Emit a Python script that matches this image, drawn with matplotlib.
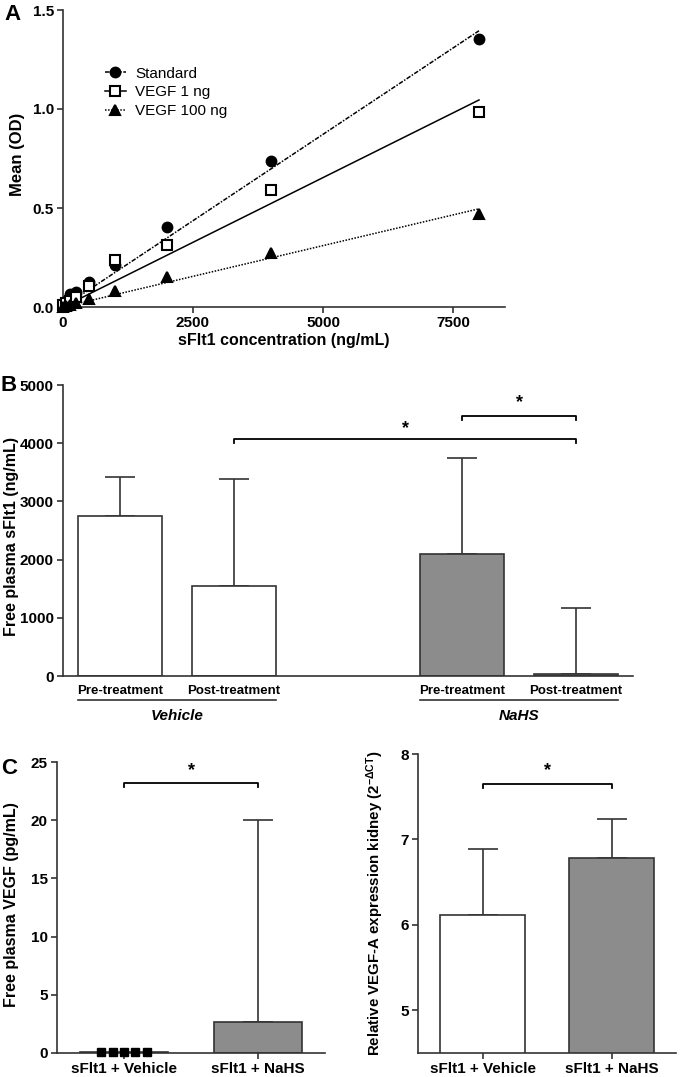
import numpy as np
import matplotlib
matplotlib.use("Agg")
import matplotlib.pyplot as plt
import matplotlib.transforms as mtransforms

plt.rcParams['font.family'] = ['Liberation Sans', 'DejaVu Sans']
plt.rcParams['font.weight'] = 'bold'
plt.rcParams['mathtext.fontset'] = 'custom'
plt.rcParams['mathtext.rm'] = 'Liberation Sans:bold'
plt.rcParams['mathtext.it'] = 'Liberation Sans:bold:italic'
plt.rcParams['mathtext.bf'] = 'Liberation Sans:bold'
plt.rcParams['mathtext.default'] = 'rm'

# ---------------- Data ----------------
# Panel A: standard curves
conc = [0, 62.5, 125, 250, 500, 1000, 2000, 4000, 8000]
od_standard = [0.02, 0.03, 0.065, 0.075, 0.125, 0.21, 0.405, 0.735, 1.355]
od_vegf1 = [0.01, 0.02, 0.03, 0.05, 0.105, 0.235, 0.315, 0.59, 0.985]
od_vegf100 = [0.0, 0.005, 0.01, 0.02, 0.04, 0.08, 0.152, 0.274, 0.47]
fit_slope = [1.744e-4, 1.307e-4, 6.2e-5]
fit_intercept = [0.0, 0.0, 0.0]
series_names = ["Standard", "VEGF 1 ng", "VEGF 100 ng"]

# Panel B: free plasma sFlt1
b_labels = ["Pre-treatment", "Post-treatment", "Pre-treatment", "Post-treatment"]
b_pos = [0, 1, 3, 4]
b_means = [2750, 1546, 2096, 35]
b_err = [670, 1840, 1650, 1135]
b_colors = ["white", "white", "#8c8c8c", "#8c8c8c"]
b_groups = ["Vehicle", "NaHS"]

# Panel C left: free plasma VEGF
c1_labels = ["sFlt1 + Vehicle", "sFlt1 + NaHS"]
c1_means = [0.05, 2.65]
c1_err = [0.0, 17.35]
c1_points_x = [-0.17, -0.085, 0.0, 0.085, 0.17]
c1_points_y = [0.05, 0.05, 0.05, 0.05, 0.05]

# Panel C right: VEGF-A expression kidney
c2_labels = ["sFlt1 + Vehicle", "sFlt1 + NaHS"]
c2_means = [6.11, 6.78]
c2_err = [0.78, 0.46]

W, H = 680, 1077
fig = plt.figure(figsize=(W / 100, H / 100), dpi=100)

def add_ax(x0, x1, ytop, ybot):
    return fig.add_axes([x0 / W, 1 - ybot / H, (x1 - x0) / W, (ybot - ytop) / H])

EDGE = "#333333"
TICKFS = 11
LABFS = 11.5

def style(ax):
    for s in ['top', 'right']:
        ax.spines[s].set_visible(False)
    for s in ['left', 'bottom']:
        ax.spines[s].set_linewidth(1.2)
        ax.spines[s].set_color(EDGE)
    ax.tick_params(width=1.2, length=4, color=EDGE, labelsize=TICKFS, pad=2.5)
    for t in ax.get_xticklabels() + ax.get_yticklabels():
        t.set_fontweight('bold')

def bracket(ax, x1, x2, y, tick, star_y):
    ax.plot([x1, x1, x2, x2], [y - tick, y, y, y - tick], color='black', lw=1.3, clip_on=False)
    ax.text((x1 + x2) / 2, star_y, "*", ha='center', va='center', fontsize=13, fontweight='bold')

# ---------------- Panel A ----------------
axA = add_ax(63, 505, 10, 307)
markers = ['o', 's', '^']
fills = ['black', 'white', 'black']
lstyles = [(0, (3, 1, 1, 1)), '-', (0, (1, 1))]
ys = [od_standard, od_vegf1, od_vegf100]
xs_fit = np.array([min(conc), max(conc)])
for i in range(3):
    axA.plot(conc, ys[i], linestyle='none', marker=markers[i], ms=7 if i != 1 else 6.5,
             mfc=fills[i], mec='black', mew=1.5, clip_on=False, zorder=3)
    axA.plot(xs_fit, fit_intercept[i] + fit_slope[i] * xs_fit, color='black', lw=1.1,
             linestyle=lstyles[i], zorder=2)
handles = []
for i in range(3):
    h, = axA.plot([], [], color='black', lw=1.1, linestyle=lstyles[i], marker=markers[i],
                  ms=7 if i != 1 else 6.5, mfc=fills[i], mec='black', mew=1.5)
    handles.append(h)
leg = axA.legend(handles, series_names, loc='upper left', bbox_to_anchor=(0.07, 0.845),
                 frameon=False, prop={'size': 11, 'weight': 'normal'}, handlelength=1.4,
                 labelspacing=0.3, handletextpad=0.6, borderpad=0.2)
axA.set_xlim(0, 8500)
axA.set_ylim(0, 1.5)
axA.set_xticks([0, 2500, 5000, 7500])
axA.set_yticks([0.0, 0.5, 1.0, 1.5])
axA.set_yticklabels(["0.0", "0.5", "1.0", "1.5"])
style(axA)
fig.text(284 / W, 1 - 341 / H, "sFlt1 concentration (ng/mL)", ha='center', va='center',
         fontsize=LABFS, fontweight='bold')
fig.text(18 / W, 1 - 154 / H, "Mean (OD)", ha='center', va='center', rotation=90,
         fontsize=12, fontweight='bold')
fig.text(4 / W, 1 - 14 / H, "A", ha='left', va='center', fontsize=16, fontweight='bold')

# ---------------- Panel B ----------------
axB = add_ax(63, 633, 385, 676)
bw = 0.745
axB.bar(b_pos, b_means, width=bw, color=b_colors, edgecolor=EDGE, linewidth=1.2, zorder=2)
axB.errorbar(b_pos, b_means, yerr=[[0] * 4, b_err], fmt='none', ecolor=EDGE, elinewidth=1.2,
             capsize=10.5, capthick=1.2, zorder=1)
axB.set_xlim(-0.5, 4.5)
axB.set_ylim(0, 5000)
axB.set_yticks([0, 1000, 2000, 3000, 4000, 5000])
axB.set_xticks([])
style(axB)
trB = mtransforms.blended_transform_factory(axB.transData, axB.transAxes)
for p, lab in zip(b_pos, b_labels):
    axB.text(p, -0.052, lab, transform=trB, ha='center', va='center', fontsize=9.5,
             fontweight='bold')
groups_span = [(b_pos[0] - bw / 2, b_pos[1] + bw / 2), (b_pos[2] - bw / 2, b_pos[3] + bw / 2)]
for (g0, g1), g in zip(groups_span, b_groups):
    axB.plot([g0, g1], [-0.082, -0.082], transform=trB, color=EDGE, lw=1.2, clip_on=False)
    axB.text((g0 + g1) / 2, -0.137, g, transform=trB, ha='center', va='center', fontsize=11,
             fontweight='bold', style='italic')
bracket(axB, 1, 4, 4072, 70, 4250)
bracket(axB, 3, 4, 4467, 70, 4690)
fig.text(1 / W, 1 - 385 / H, "B", ha='left', va='center', fontsize=16, fontweight='bold')
fig.text(12 / W, 1 - 537 / H, "Free plasma sFlt1 (ng/mL)", ha='center', va='center',
         rotation=90, fontsize=LABFS, fontweight='bold')

# ---------------- Panel C left ----------------
axC1 = add_ax(57, 325, 762, 1053)
cw = 0.66
axC1.bar([0, 1], c1_means, width=cw, color=["white", "#8c8c8c"], edgecolor=EDGE,
         linewidth=1.2, zorder=2)
axC1.errorbar([1], [c1_means[1]], yerr=[[0], [c1_err[1]]], fmt='none', ecolor=EDGE,
              elinewidth=1.2, capsize=11, capthick=1.2, zorder=1)
axC1.plot(c1_points_x, c1_points_y, linestyle='none', marker='s', ms=6, color='black',
          clip_on=False, zorder=4)
axC1.set_xlim(-0.5, 1.5)
axC1.set_ylim(0, 25)
axC1.set_yticks([0, 5, 10, 15, 20, 25])
axC1.set_xticks([0, 1])
axC1.set_xticklabels(c1_labels)
style(axC1)
bracket(axC1, 0, 1, 23.2, 0.35, 24.3)
fig.text(1 / W, 1 - 768 / H, "C", ha='left', va='center', fontsize=16, fontweight='bold')
fig.text(12 / W, 1 - 905 / H, "Free plasma VEGF (pg/mL)", ha='center', va='center',
         rotation=90, fontsize=LABFS, fontweight='bold')

# ---------------- Panel C right ----------------
axC2 = add_ax(418, 676, 754, 1053)
axC2.bar([0, 1], c2_means, width=cw, color=["white", "#8c8c8c"], edgecolor=EDGE,
         linewidth=1.2, zorder=2)
axC2.errorbar([0, 1], c2_means, yerr=[[0, 0], c2_err], fmt='none', ecolor=EDGE,
              elinewidth=1.2, capsize=11, capthick=1.2, zorder=1)
axC2.set_xlim(-0.5, 1.5)
axC2.set_ylim(4.5, 8)
axC2.set_yticks([5, 6, 7, 8])
axC2.set_xticks([0, 1])
axC2.set_xticklabels(c2_labels)
style(axC2)
bracket(axC2, 0, 1, 7.65, 0.05, 7.8)
fig.text(375 / W, 1 - 903 / H, "Relative VEGF-A expression kidney (2$^{-ΔCT}$)", ha='center',
         va='center', rotation=90, fontsize=10.8, fontweight='bold')

fig.savefig("out.png", dpi=100)
